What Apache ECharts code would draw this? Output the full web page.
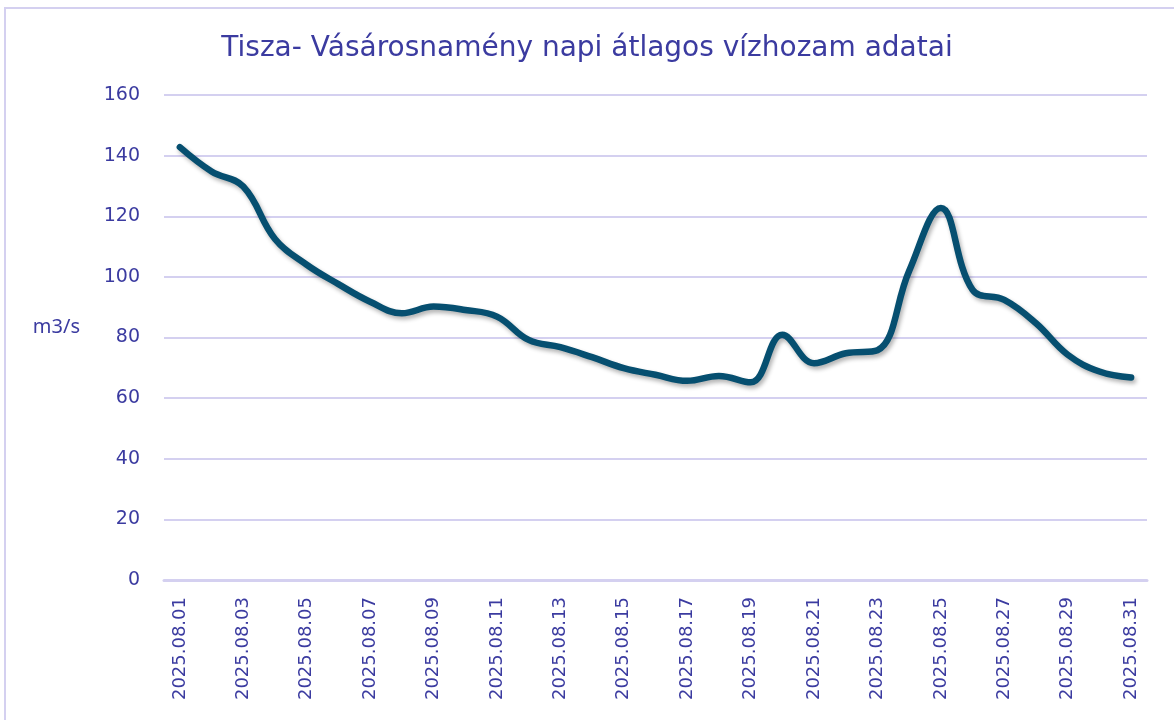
<!DOCTYPE html>
<html>
<head>
<meta charset="utf-8">
<script src="https://cdn.jsdelivr.net/npm/echarts@6/dist/echarts.min.js"></script>
<style>
  html, body { margin: 0; padding: 0; background: #fff; }
  #chart { width: 1174px; height: 720px; }
</style>
</head>
<body>
<div id="chart"></div>
<script>
// napi átlagos vízhozam, m3/s
const days = [
  '2025.08.01', '2025.08.02', '2025.08.03', '2025.08.04', '2025.08.05', '2025.08.06',
  '2025.08.07', '2025.08.08', '2025.08.09', '2025.08.10', '2025.08.11', '2025.08.12',
  '2025.08.13', '2025.08.14', '2025.08.15', '2025.08.16', '2025.08.17', '2025.08.18',
  '2025.08.19', '2025.08.20', '2025.08.21', '2025.08.22', '2025.08.23', '2025.08.24',
  '2025.08.25', '2025.08.26', '2025.08.27', '2025.08.28', '2025.08.29', '2025.08.30',
  '2025.08.31'
]
const flow = [
  142.8, 134.8, 129.8, 112.5, 104, 97.6,
  91.8, 88, 90.2, 89.1, 86.9, 79.2,
  76.8, 73.5, 69.9, 67.7, 65.7, 67.3,
  65.2, 80.9, 71.5, 74.8, 75.8, 102,
  122.7, 95.7, 92.4, 84.7, 74.3, 68.8,
  66.8
]

const textColor = '#3b3ba0'
const gridColor = '#d4d0f0'

const chart = echarts.init(document.getElementById('chart'))
chart.setOption({
  animation: false,
  title: {
    text: 'Tisza- Vásárosnamény napi átlagos vízhozam adatai',
    left: 'center',
    top: 30,
    textStyle: {
      color: textColor,
      fontFamily: 'DejaVu Sans',
      fontWeight: 'normal',
      fontSize: 28
    }
  },
  graphic: [{
    type: 'rect',
    shape: { x: 5, y: 8, width: 1200, height: 800 },
    style: { fill: 'none', stroke: gridColor, lineWidth: 2 },
    silent: true
  }],
  grid: {
    left: 164,
    right: 27,
    top: 95,
    bottom: 140
  },
  xAxis: {
    type: 'category',
    data: days,
    boundaryGap: true,
    axisLine: { lineStyle: { color: gridColor, width: 3 } },
    axisTick: {
      interval: 1,
      length: 7,
      lineStyle: { color: gridColor, width: 2 }
    },
    axisLabel: {
      interval: 1,
      rotate: 90,
      margin: 17,
      color: textColor,
      fontFamily: 'DejaVu Sans',
      fontSize: 18
    }
  },
  yAxis: {
    type: 'value',
    min: 0,
    max: 160,
    interval: 20,
    name: 'm3/s',
    nameLocation: 'middle',
    nameRotate: 0,
    nameGap: 84,
    nameTextStyle: {
      color: textColor,
      fontFamily: 'Noto Sans',
      fontSize: 20,
      verticalAlign: 'bottom'
    },
    axisLine: { show: false },
    axisTick: { show: false },
    axisLabel: {
      margin: 24,
      color: textColor,
      fontFamily: 'DejaVu Sans',
      fontSize: 19
    },
    splitLine: { lineStyle: { color: gridColor, width: 2 } }
  },
  series: [{
    type: 'line',
    data: flow,
    smooth: 0.4,
    symbol: 'none',
    lineStyle: {
      color: '#064f70',
      width: 6.5,
      cap: 'round',
      shadowColor: 'rgba(0, 0, 0, 0.3)',
      shadowBlur: 4,
      shadowOffsetX: 2,
      shadowOffsetY: 3
    }
  }]
})
</script>
</body>
</html>
